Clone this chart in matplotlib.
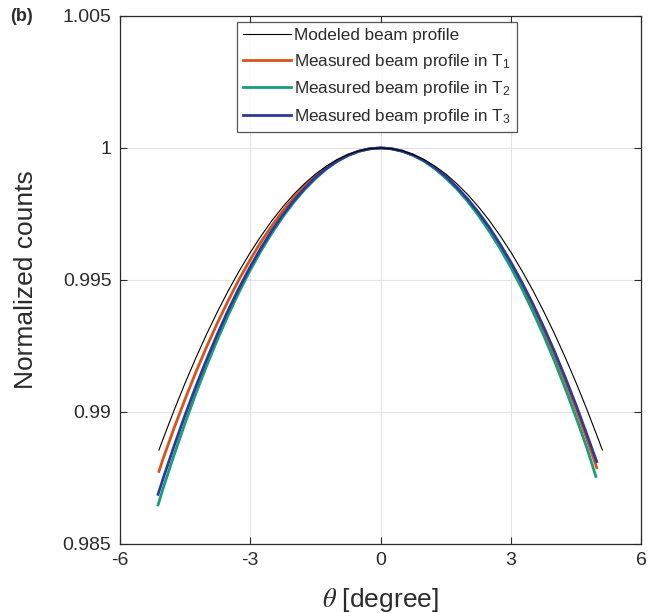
import matplotlib
matplotlib.use("Agg")
import matplotlib.pyplot as plt
import numpy as np

plt.rcParams['font.family'] = ['Liberation Sans', 'DejaVu Sans']
plt.rcParams['mathtext.fontset'] = 'stix'

# values (theta in degree, normalized counts)
theta_model = [-5.1, -5, -4.75, -4.5, -4.25, -4, -3.75, -3.5, -3.25, -3, -2.75, -2.5, -2.25, -2, -1.75,
               -1.5, -1.25, -1, -0.75, -0.5, -0.25, 0, 0.25, 0.5, 0.75, 1, 1.25, 1.5, 1.75, 2,
               2.25, 2.5, 2.75, 3, 3.25, 3.5, 3.75, 4, 4.25, 4.5, 4.75, 5, 5.1]
counts_model = [0.98856, 0.98900, 0.99007, 0.99109, 0.99205, 0.99296, 0.99381, 0.99461, 0.99535, 0.99604,
                0.99667, 0.99725, 0.99777, 0.99824, 0.99865, 0.99901, 0.99931, 0.99956, 0.99975, 0.99989,
                0.99997, 1.0, 0.99997, 0.99989, 0.99975, 0.99956, 0.99931, 0.99901, 0.99865, 0.99824,
                0.99777, 0.99725, 0.99667, 0.99604, 0.99535, 0.99461, 0.99381, 0.99296, 0.99205, 0.99109,
                0.99007, 0.98900, 0.98856]

theta_t1 = [-5.1, -5, -4.75, -4.5, -4.25, -4, -3.75, -3.5, -3.25, -3, -2.75, -2.5, -2.25, -2, -1.75,
            -1.5, -1.25, -1, -0.75, -0.5, -0.25, 0, 0.25, 0.5, 0.75, 1, 1.25, 1.5, 1.75, 2,
            2.25, 2.5, 2.75, 3, 3.25, 3.5, 3.75, 4, 4.25, 4.5, 4.75, 4.97]
counts_t1 = [0.98775, 0.98825, 0.98940, 0.99048, 0.99151, 0.99248, 0.99339, 0.99424, 0.99504, 0.99577,
             0.99645, 0.99706, 0.99762, 0.99812, 0.99856, 0.99894, 0.99927, 0.99953, 0.99974, 0.99988,
             0.99997, 1.0, 0.99997, 0.99988, 0.99972, 0.99951, 0.99923, 0.99890, 0.99850, 0.99804,
             0.99752, 0.99694, 0.99629, 0.99559, 0.99482, 0.99400, 0.99311, 0.99216, 0.99115, 0.99008,
             0.98894, 0.98789]

theta_t2 = [-5.12, -5, -4.75, -4.5, -4.25, -4, -3.75, -3.5, -3.25, -3, -2.75, -2.5, -2.25, -2, -1.75,
            -1.5, -1.25, -1, -0.75, -0.5, -0.25, 0, 0.25, 0.5, 0.75, 1, 1.25, 1.5, 1.75, 2,
            2.25, 2.5, 2.75, 3, 3.25, 3.5, 3.75, 4, 4.25, 4.5, 4.75, 4.95]
counts_t2 = [0.98648, 0.98713, 0.98838, 0.98957, 0.99070, 0.99176, 0.99276, 0.99369, 0.99456, 0.99537,
             0.99611, 0.99678, 0.99739, 0.99794, 0.99842, 0.99884, 0.99920, 0.99949, 0.99971, 0.99987,
             0.99997, 1.0, 0.99997, 0.99987, 0.99972, 0.99950, 0.99921, 0.99886, 0.99845, 0.99798,
             0.99744, 0.99684, 0.99618, 0.99546, 0.99467, 0.99381, 0.99290, 0.99192, 0.99088, 0.98977,
             0.98861, 0.98756]

theta_t3 = [-5.12, -5, -4.75, -4.5, -4.25, -4, -3.75, -3.5, -3.25, -3, -2.75, -2.5, -2.25, -2, -1.75,
            -1.5, -1.25, -1, -0.75, -0.5, -0.25, 0, 0.25, 0.5, 0.75, 1, 1.25, 1.5, 1.75, 2,
            2.25, 2.5, 2.75, 3, 3.25, 3.5, 3.75, 4, 4.25, 4.5, 4.75, 4.97]
counts_t3 = [0.98688, 0.98750, 0.98872, 0.98988, 0.99097, 0.99200, 0.99297, 0.99388, 0.99472, 0.99550,
             0.99622, 0.99688, 0.99747, 0.99800, 0.99847, 0.99888, 0.99922, 0.99950, 0.99972, 0.99988,
             0.99997, 1.0, 0.99997, 0.99988, 0.99973, 0.99952, 0.99925, 0.99892, 0.99852, 0.99807,
             0.99756, 0.99699, 0.99635, 0.99566, 0.99491, 0.99410, 0.99322, 0.99229, 0.99129, 0.99024,
             0.98912, 0.98812]

xticks = [-6, -3, 0, 3, 6]
yticks = [0.985, 0.99, 0.995, 1.0, 1.005]
ytick_labels = ['0.985', '0.99', '0.995', '1', '1.005']

txt = '#2b2b2b'

fig = plt.figure(figsize=(6.62, 6.13), dpi=100)
ax = fig.add_axes([0.181, 0.1126, 0.788, 0.8614])

ax.plot(theta_model, counts_model, color='black', lw=0.8, label='Modeled beam profile', zorder=3)
ax.plot(theta_t1, counts_t1, color='#D95319', lw=2.0, label=r'Measured beam profile in T$\mathregular{_1}$')
ax.plot(theta_t2, counts_t2, color='#159E78', lw=2.0, label=r'Measured beam profile in T$\mathregular{_2}$')
ax.plot(theta_t3, counts_t3, color='#2D3A99', lw=2.0, label=r'Measured beam profile in T$\mathregular{_3}$')

ax.set_xlim(-6, 6)
ax.set_ylim(0.985, 1.005)
ax.set_xticks(xticks)
ax.set_xticklabels([str(t) for t in xticks])
ax.set_yticks(yticks)
ax.set_yticklabels(ytick_labels)
ax.tick_params(direction='in', length=5, width=0.8, labelsize=14, colors=txt,
               top=True, right=True, pad=6)
ax.grid(True, color='#e3e3ea', lw=0.8)
ax.set_axisbelow(True)
for s in ax.spines.values():
    s.set_linewidth(0.9)
    s.set_color(txt)

ax.set_xlabel(r'$\theta$ [degree]', fontsize=19, color=txt, labelpad=12)
ax.set_ylabel('Normalized counts', fontsize=19, color=txt, labelpad=18)

leg = ax.legend(loc='upper center', bbox_to_anchor=(0.493, 0.995), fontsize=12.3, frameon=True,
                fancybox=False, edgecolor=txt, handlelength=2.8, handletextpad=0.2,
                borderpad=0.35, labelspacing=0.5, borderaxespad=0.2)
leg.get_frame().set_linewidth(0.9)
for t in leg.get_texts():
    t.set_color(txt)

fig.text(0.015, 0.965, '(b)', fontsize=13, fontweight='bold', color=txt)

fig.savefig('out.png', dpi=100)
